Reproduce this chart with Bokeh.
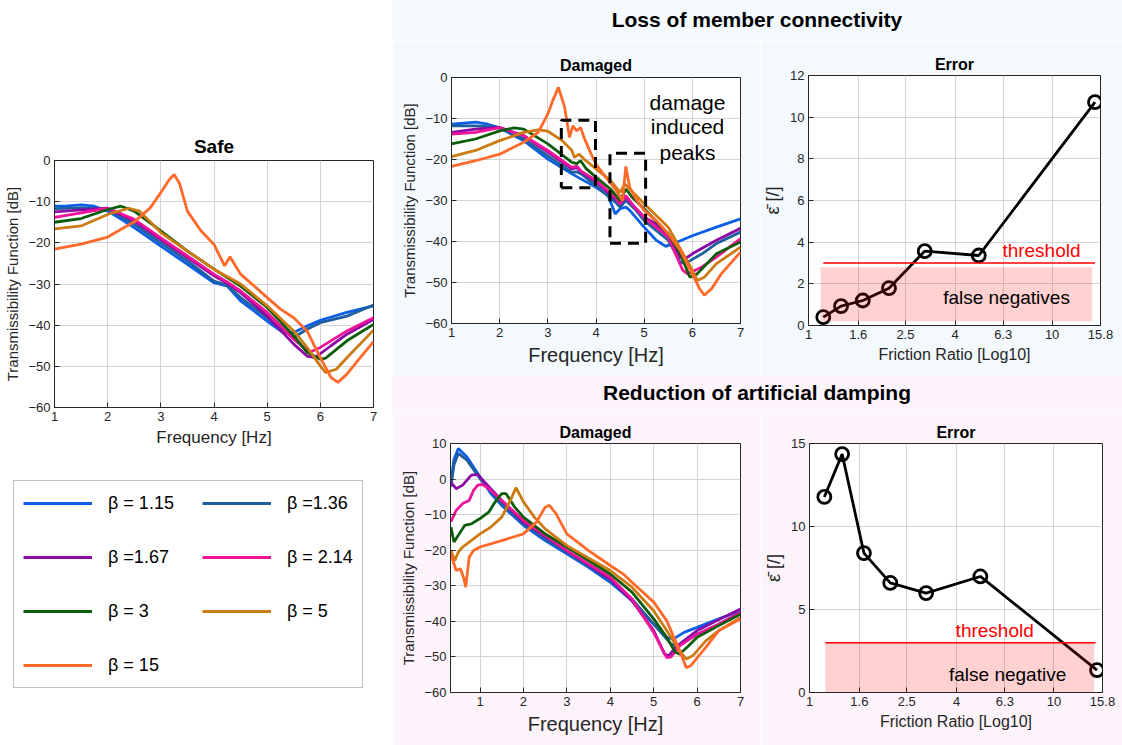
from bokeh.plotting import figure
from bokeh.models import Range1d, FixedTicker, Legend, LegendItem, Div, Spacer
from bokeh.layouts import row, column
from bokeh.embed import file_html
from bokeh.resources import INLINE
from bokeh.core.properties import value

# ---------------- data ----------------
betas = [1.15, 1.36, 1.67, 2.14, 3, 5, 15]
beta_labels = ["\u03b2 = 1.15", "\u03b2 =1.36", "\u03b2 =1.67", "\u03b2 = 2.14", "\u03b2 = 3", "\u03b2 = 5", "\u03b2 = 15"]
colors = ["#0a5fe6", "#1f5f9e", "#8b0aa5", "#f0129a", "#0b5c0b", "#cc7a12", "#ff6a2a"]

# Safe
s_f_115 = [1, 1.25, 1.5, 1.75, 2, 2.25, 2.5, 3, 3.5, 4, 4.25, 4.5, 5, 5.3, 5.5, 5.75, 6, 6.5, 7]
s_db_115 = [-11.1, -11.0, -10.8, -11.1, -12.3, -14.2, -16.3, -20.8, -25.2, -29.7, -30.5, -34.1, -39.0, -41.8, -41.8, -40.2, -38.8, -36.9, -35.3]
s_f_136 = [1, 1.5, 2, 2.5, 3, 3.5, 4, 4.25, 4.5, 5, 5.3, 5.5, 5.75, 6, 6.5, 7]
s_db_136 = [-11.7, -11.5, -11.7, -15.5, -20.0, -24.4, -29.3, -30.3, -33.3, -38.2, -41.4, -43.0, -41.0, -39.4, -37.8, -35.1]
s_f_167 = [1, 1.5, 2, 2.5, 3, 3.5, 4, 4.25, 4.5, 5, 5.5, 5.75, 5.9, 6.2, 6.5, 7]
s_db_167 = [-12.5, -12.0, -11.6, -14.7, -19.2, -23.6, -28.0, -29.8, -32.1, -37.8, -44.6, -47.5, -47.9, -45.0, -42.2, -38.6]
s_f_214 = [1, 1.5, 2, 2.5, 3, 3.5, 4, 4.25, 4.5, 5, 5.5, 5.8, 6, 6.5, 7]
s_db_214 = [-13.8, -12.7, -11.6, -14.3, -18.8, -23.2, -27.6, -29.5, -31.7, -36.9, -43.4, -46.6, -45.4, -41.4, -38.2]
s_f_3 = [1, 1.5, 2, 2.25, 2.5, 3, 3.5, 4, 4.5, 5, 5.5, 5.75, 6, 6.1, 6.5, 7]
s_db_3 = [-15.0, -14.1, -11.9, -11.1, -12.3, -17.1, -22.0, -26.4, -30.5, -35.7, -42.6, -46.6, -48.3, -48.0, -43.8, -39.8]
s_f_5 = [1, 1.5, 2, 2.4, 2.6, 3, 3.5, 4, 4.5, 5, 5.5, 5.75, 6, 6.1, 6.3, 6.5, 7]
s_db_5 = [-16.6, -15.9, -13.1, -11.6, -12.3, -17.5, -22.0, -26.4, -30.0, -35.3, -41.4, -45.4, -49.9, -51.5, -50.7, -47.9, -41.2]
s_f_15 = [1, 1.5, 2, 2.5, 2.8, 3.0, 3.15, 3.25, 3.35, 3.5, 3.75, 4.0, 4.2, 4.3, 4.4, 4.5, 5.0, 5.25, 5.5, 5.75, 6.0, 6.2, 6.33, 6.5, 6.75, 7]
s_db_15 = [-21.5, -20.3, -18.6, -14.9, -11.5, -7.8, -4.8, -3.4, -5.5, -12.3, -17.0, -20.4, -25.6, -23.4, -25.5, -27.6, -33.3, -36.1, -38.2, -41.4, -47.9, -52.7, -53.9, -51.9, -47.9, -44.0]

# Damaged - loss of member connectivity
d1_f_115 = [1, 1.5, 1.75, 2, 2.5, 3, 3.5, 4, 4.25, 4.4, 4.5, 4.62, 4.7, 5, 5.25, 5.45, 5.75, 6, 6.5, 7]
d1_db_115 = [-11.4, -10.9, -11.4, -12.3, -15.4, -19.9, -23.5, -26.8, -28.8, -33.3, -32.0, -31.6, -32.4, -36.5, -39.7, -41.2, -39.8, -38.6, -36.5, -34.5]
d1_f_136 = [1, 1.5, 2, 2.5, 3, 3.5, 3.6, 3.7, 4, 4.4, 4.5, 4.62, 4.8, 5, 5.5, 5.75, 5.85, 6.2, 6.5, 7]
d1_db_136 = [-11.8, -11.8, -12.2, -15.0, -19.1, -23.1, -23.0, -23.6, -26.4, -30.4, -31.6, -30.0, -32.0, -34.9, -39.7, -45.0, -45.4, -43.0, -40.5, -37.7]
d1_f_167 = [1, 1.5, 2, 2.5, 3, 3.5, 3.6, 3.7, 4, 4.4, 4.5, 4.62, 4.8, 5, 5.25, 5.5, 5.75, 5.85, 6, 6.5, 7]
d1_db_167 = [-13.4, -12.6, -12.2, -14.2, -18.2, -22.3, -22.0, -23.1, -25.5, -29.6, -30.8, -29.2, -31.6, -34.1, -35.7, -38.9, -43.8, -44.2, -43.0, -39.7, -36.8]
d1_f_214 = [1, 1.5, 2, 2.5, 3, 3.5, 3.6, 3.7, 4, 4.4, 4.5, 4.62, 4.8, 5, 5.5, 5.8, 5.9, 6.2, 6.5, 7]
d1_db_214 = [-13.8, -13.4, -12.2, -14.2, -17.8, -21.9, -21.6, -22.9, -25.1, -29.2, -30.8, -28.8, -31.6, -34.1, -38.9, -47.0, -47.9, -46.2, -43.8, -39.3]
d1_f_3 = [1, 1.5, 2, 2.3, 2.5, 3, 3.5, 3.6, 3.68, 3.8, 4, 4.3, 4.5, 4.62, 4.75, 5, 5.5, 5.75, 5.95, 6.1, 6.5, 7]
d1_db_3 = [-16.2, -15.0, -13.0, -12.3, -12.6, -16.2, -20.7, -21.0, -20.3, -22.3, -24.3, -27.2, -30.0, -27.2, -29.2, -32.0, -38.1, -43.0, -48.7, -47.9, -43.0, -40.1]
d1_f_5 = [1, 1.5, 2, 2.5, 2.8, 3, 3.3, 3.5, 3.55, 3.65, 3.75, 4, 4.3, 4.5, 4.6, 4.7, 5, 5.5, 6, 6.1, 6.25, 6.5, 7]
d1_db_5 = [-19.3, -17.8, -15.4, -13.4, -12.8, -13.1, -15.4, -17.8, -19.5, -18.7, -19.9, -22.3, -25.1, -28.0, -26.0, -27.2, -30.8, -36.5, -47.0, -49.5, -48.7, -45.4, -41.4]
d1_f_15 = [1, 1.5, 2, 2.5, 2.8, 3.0, 3.1, 3.22, 3.35, 3.45, 3.52, 3.6, 3.68, 3.75, 3.9, 4.0, 4.2, 4.4, 4.55, 4.62, 4.7, 4.85, 5, 5.25, 5.5, 5.75, 6, 6.15, 6.25, 6.4, 6.6, 7]
d1_db_15 = [-21.7, -20.3, -18.7, -15.8, -13.4, -8.9, -5.7, -2.4, -7.3, -14.6, -11.8, -13.0, -12.2, -14.6, -18.7, -21.1, -24.3, -27.2, -30.0, -21.7, -26.8, -30.0, -32.4, -34.9, -38.1, -42.2, -47.9, -51.5, -53.1, -51.5, -47.9, -42.6]

# Damaged - reduction of artificial damping
d2_f_115 = [0.33, 0.4, 0.5, 0.7, 1.0, 1.25, 1.5, 2, 2.5, 3, 3.5, 4, 4.5, 5, 5.3, 5.45, 5.7, 6, 6.5, 7]
d2_db_115 = [-0.9, 5.5, 8.6, 6.2, 0.6, -4.1, -7.4, -13.0, -17.3, -21.0, -24.8, -29.0, -34.2, -40.8, -44.5, -45.0, -43.1, -41.7, -39.3, -37.0]
d2_f_136 = [0.33, 0.4, 0.5, 0.7, 1.0, 1.5, 2, 2.5, 3, 4, 4.5, 5, 5.4, 5.55, 6, 6.5, 7]
d2_db_136 = [-2.2, 4.0, 7.2, 5.3, 0.1, -6.8, -12.6, -16.8, -20.5, -28.5, -33.7, -40.8, -46.4, -46.9, -43.6, -40.8, -37.5]
d2_f_167 = [0.33, 0.45, 0.6, 0.8, 0.95, 1.1, 1.5, 2, 3, 4, 4.5, 5, 5.25, 5.35, 5.5, 6, 7]
d2_db_167 = [-0.9, -2.7, -1.7, 1.1, 1.3, -0.8, -6.0, -12.1, -20.1, -28.1, -34.2, -42.6, -49.2, -49.7, -47.3, -42.6, -36.5]
d2_f_214 = [0.33, 0.45, 0.6, 0.75, 0.85, 0.95, 1.05, 1.2, 1.5, 2, 3, 4, 4.5, 5, 5.3, 5.4, 5.6, 6, 6.5, 7]
d2_db_214 = [-12.0, -8.8, -6.9, -6.0, -3.2, -1.7, -1.5, -2.7, -6.0, -11.6, -20.1, -27.6, -33.7, -43.1, -50.2, -50.0, -46.9, -43.6, -40.8, -37.5]
d2_f_3 = [0.33, 0.4, 0.5, 0.65, 0.8, 1.0, 1.2, 1.35, 1.5, 1.6, 1.8, 2, 2.5, 3, 4, 4.5, 5, 5.3, 5.5, 5.6, 5.8, 6, 6.5, 7]
d2_db_3 = [-13.5, -17.7, -15.8, -13.0, -12.6, -11.1, -9.3, -6.4, -4.1, -4.1, -7.9, -10.7, -15.4, -19.1, -26.7, -31.8, -39.3, -44.5, -48.7, -49.2, -46.9, -44.5, -41.2, -38.0]
d2_f_5 = [0.33, 0.42, 0.5, 0.6, 0.75, 1.0, 1.25, 1.5, 1.7, 1.83, 2, 2.25, 2.5, 3, 4, 4.5, 5, 5.3, 5.6, 5.75, 5.9, 6.2, 6.5, 7]
d2_db_5 = [-20.1, -22.9, -20.5, -19.1, -17.7, -15.4, -13.5, -10.7, -6.0, -2.4, -6.4, -10.7, -14.0, -18.7, -25.7, -30.4, -37.0, -42.6, -48.3, -50.6, -49.7, -45.5, -42.6, -39.0]
d2_f_15 = [0.33, 0.4, 0.45, 0.55, 0.63, 0.67, 0.75, 0.85, 1.0, 1.5, 2, 2.3, 2.5, 2.6, 2.75, 3, 3.5, 4, 4.3, 4.5, 5, 5.3, 5.6, 5.75, 5.85, 6.2, 6.5, 7]
d2_db_15 = [-21.0, -23.8, -25.7, -25.2, -28.0, -30.4, -22.0, -20.1, -19.1, -17.3, -15.4, -12.1, -7.9, -7.4, -9.7, -15.4, -20.1, -24.3, -26.7, -29.0, -34.6, -39.8, -48.3, -53.0, -52.5, -47.3, -42.6, -39.3]

# Error curves
err_connect = [0.4, 0.93, 1.2, 1.79, 3.57, 3.36, 10.72]
err_damping = [11.78, 14.36, 8.4, 6.6, 5.99, 6.99, 1.35]
threshold = 3
err_ticks = [1, 1.6, 2.5, 4, 6.3, 10, 15.8]
err_tick_labels = ["1", "1.6", "2.5", "4", "6.3", "10", "15.8"]

# annotation geometry (data units)
peak_boxes_x0 = [3.28, 4.29]
peak_boxes_x1 = [3.99, 5.03]
peak_boxes_y0 = [-26.9, -40.4]
peak_boxes_y1 = [-10.4, -18.5]
peak_words = ["damage", "induced", "peaks"]
peak_words_y = [-6.1, -11.9, -18.2]

FONT = "Liberation Sans"
DARK = "#262626"
BLUE_BG = "#f3f9fd"
PINK_BG = "#fdf4fb"
LW = 2.8

safe_f = [s_f_115, s_f_136, s_f_167, s_f_214, s_f_3, s_f_5, s_f_15]
safe_db = [s_db_115, s_db_136, s_db_167, s_db_214, s_db_3, s_db_5, s_db_15]


def no_align(p):
    try:
        p.frame_align = False
    except Exception:
        pass


def style(p, tick_size="13px", xlab_size="17px", ylab_size="15px", title_size="16px", standoff=6):
    p.background_fill_color = "white"
    p.outline_line_color = DARK
    p.outline_line_width = 1
    p.title.align = "center"
    p.title.text_font = FONT
    p.title.text_font_style = "bold"
    p.title.text_font_size = title_size
    p.title.text_color = "black"
    p.title.standoff = standoff
    for ax in p.axis:
        ax.axis_line_color = DARK
        ax.major_tick_in = 5
        ax.major_tick_out = 0
        ax.minor_tick_line_color = None
        ax.major_tick_line_color = DARK
        ax.major_label_text_font = FONT
        ax.major_label_text_font_size = tick_size
        ax.major_label_text_color = DARK
        ax.major_label_standoff = 4
        ax.axis_label_text_font = FONT
        ax.axis_label_text_font_style = "normal"
        ax.axis_label_text_color = DARK
        ax.axis_label_standoff = 4
    p.xaxis.axis_label_text_font_size = xlab_size
    p.yaxis.axis_label_text_font_size = ylab_size
    p.grid.grid_line_color = "#d4d4d4"
    p.grid.grid_line_width = 1


def make_fig(w, h, l, r, t, b, title, xr, yr, bg, x_log=False):
    p = figure(width=w, height=h, min_border_left=l, min_border_right=r,
               min_border_top=t, min_border_bottom=b, x_range=xr, y_range=yr,
               output_backend="svg", toolbar_location=None,
               x_axis_type="log" if x_log else "linear", title=title,
               border_fill_color=bg)
    no_align(p)
    return p


def draw_curves(p, fs, dbs, lw=LW):
    rs = []
    for f, d, c in zip(fs, dbs, colors):
        rs.append(p.line(f, d, line_color=c, line_width=lw))
    return rs


# ---------------- Safe ----------------
safe = make_fig(392, 335, 54, 19, 35, 53, "Safe", Range1d(1, 7), Range1d(-60, 0), "white")
style(safe, xlab_size="17px", ylab_size="15px", title_size="19px", standoff=7)
safe.xaxis.ticker = FixedTicker(ticks=[1, 2, 3, 4, 5, 6, 7])
safe.yaxis.ticker = FixedTicker(ticks=[-60, -50, -40, -30, -20, -10, 0])
safe.xaxis.axis_label = "Frequency [Hz]"
safe.yaxis.axis_label = "Transmissibility Function [dB]"
draw_curves(safe, safe_f, safe_db)

# ---------------- Legend panel (the Safe series, outside this panel's view) ----------------
leg = figure(width=392, height=230, x_range=Range1d(0, 1), y_range=Range1d(0, 1),
             min_border=0, min_border_left=0, min_border_right=0, min_border_top=0,
             min_border_bottom=0, output_backend="svg", toolbar_location=None,
             x_axis_location=None, y_axis_location=None, border_fill_color="white")
no_align(leg)
leg.grid.visible = False
leg.outline_line_color = None
leg_rs = draw_curves(leg, safe_f, safe_db, lw=3.2)
order = [0, 2, 4, 6, 1, 3, 5]
legend = Legend(items=[LegendItem(label=beta_labels[i], renderers=[leg_rs[i]]) for i in order],
                location=(13, 12), orientation="vertical", nrows=4, ncols=2,
                glyph_width=69, glyph_height=26, label_standoff=16, label_width=60,
                label_height=26, spacing=28, padding=9, margin=0,
                label_text_font=FONT, label_text_font_size="18px", label_text_color="black",
                border_line_color="#808080", border_line_width=1.2, background_fill_color="white",
                background_fill_alpha=1)
leg.add_layout(legend)

# ---------------- Loss of member connectivity ----------------
d1 = make_fig(368, 335, 59, 20, 37, 52, "Damaged", Range1d(1, 7), Range1d(-60, 0), BLUE_BG)
style(d1, xlab_size="20px", ylab_size="15px", title_size="16px", standoff=7)
d1.xaxis.ticker = FixedTicker(ticks=[1, 2, 3, 4, 5, 6, 7])
d1.yaxis.ticker = FixedTicker(ticks=[-60, -50, -40, -30, -20, -10, 0])
d1.xaxis.axis_label = "Frequency [Hz]"
d1.yaxis.axis_label = "Transmissibility Function [dB]"
draw_curves(d1,
            [d1_f_115, d1_f_136, d1_f_167, d1_f_214, d1_f_3, d1_f_5, d1_f_15],
            [d1_db_115, d1_db_136, d1_db_167, d1_db_214, d1_db_3, d1_db_5, d1_db_15])
for x0, x1, y0, y1 in zip(peak_boxes_x0, peak_boxes_x1, peak_boxes_y0, peak_boxes_y1):
    d1.line([x0, x1, x1, x0, x0], [y0, y0, y1, y1, y0], line_color="black",
            line_width=3, line_dash="11 7")
d1.text(x=[5.9] * 3, y=peak_words_y, text=peak_words, text_align="center",
        text_baseline="middle", text_font=value(FONT), text_font_size="21px", text_color="black")


def error_fig(w, h, l, r, t, b, yr, yticks, bg, errs, rect, thr_x, thr_text, fn_text):
    p = make_fig(w, h, l, r, t, b, "Error", Range1d(1, 15.8), Range1d(*yr), bg, x_log=True)
    style(p, xlab_size="16px", ylab_size="18px", title_size="16px", standoff=5)
    tk = FixedTicker(ticks=err_ticks)
    p.xaxis.ticker = tk
    p.xgrid.ticker = tk
    p.xaxis.major_label_overrides = {(int(t) if float(t).is_integer() else t): s
                                     for t, s in zip(err_ticks, err_tick_labels)}
    p.yaxis.ticker = FixedTicker(ticks=yticks)
    p.xaxis.axis_label = "Friction Ratio [Log10]"
    p.yaxis.axis_label = "\u03b5\u0304 [/]"
    p.line(betas, errs, line_color="black", line_width=LW)
    p.scatter(betas, errs, marker="circle", size=13, fill_color=None, line_color="black", line_width=LW)
    p.quad(left=[rect[0]], right=[rect[1]], bottom=[rect[2]], top=[rect[3]],
           fill_color="#ff0000", fill_alpha=0.18, line_color=None)
    p.line(thr_x, [threshold, threshold], line_color="#ff0000", line_width=1.5)
    p.text(x=[thr_text[0]], y=[thr_text[1]], text=["threshold"], text_color="#ff0000",
           text_font=value(FONT), text_font_size="19px", text_baseline="bottom")
    p.text(x=[fn_text[0]], y=[fn_text[1]], text=[fn_text[2]], text_color="black",
           text_font=value(FONT), text_font_size="19px", text_baseline="middle")
    return p


e1 = error_fig(362, 335, 48, 22, 35, 50, (0, 12), [0, 2, 4, 6, 8, 10, 12], BLUE_BG,
               err_connect, (1.12, 14.6, 0.2, 2.8), [1.15, 15.0], (6.25, 3.12),
               (3.57, 1.36, "false negatives"))

# ---------------- Reduction of artificial damping ----------------
d2 = make_fig(368, 335, 58, 20, 33, 53, "Damaged", Range1d(0.32, 7), Range1d(-60, 10), PINK_BG)
style(d2, xlab_size="20px", ylab_size="15px", title_size="16px", standoff=5)
d2.xaxis.ticker = FixedTicker(ticks=[1, 2, 3, 4, 5, 6, 7])
d2.yaxis.ticker = FixedTicker(ticks=[-60, -50, -40, -30, -20, -10, 0, 10])
d2.xaxis.axis_label = "Frequency [Hz]"
d2.yaxis.axis_label = "Transmissibility Function [dB]"
draw_curves(d2,
            [d2_f_115, d2_f_136, d2_f_167, d2_f_214, d2_f_3, d2_f_5, d2_f_15],
            [d2_db_115, d2_db_136, d2_db_167, d2_db_214, d2_db_3, d2_db_5, d2_db_15])

e2 = error_fig(362, 335, 49, 20, 33, 53, (0, 15), [0, 5, 10, 15], PINK_BG,
               err_damping, (1.16, 14.6, 0.0, 3.0), [1.16, 14.8], (3.96, 3.1),
               (3.72, 1.1, "false negative"))


def section_title(text, h, bg):
    return Div(text=text, width=730, height=h, margin=0,
               styles={"background-color": bg, "font-family": FONT, "font-size": "21px",
                       "font-weight": "bold", "text-align": "center", "line-height": f"{h}px",
                       "color": "black", "width": "730px", "height": f"{h}px"})


top = column(section_title("Loss of member connectivity", 40, BLUE_BG), row(d1, e1, spacing=0), spacing=0)
bot = column(section_title("Reduction of artificial damping", 35, PINK_BG), row(d2, e2, spacing=0), spacing=0)
left = column(Spacer(width=392, height=125, margin=0), safe, Spacer(width=392, height=10, margin=0),
              row(leg, spacing=0), Spacer(width=392, height=45, margin=0), spacing=0)
page = row(left, column(top, bot, spacing=0), spacing=0)

open("out.html", "w").write(file_html(page, INLINE))
